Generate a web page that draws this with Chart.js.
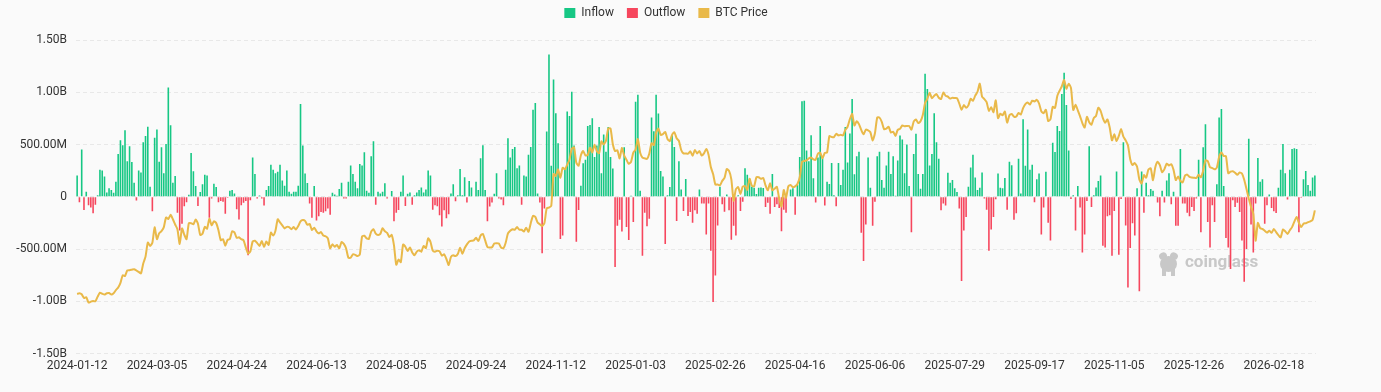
<!DOCTYPE html>
<html>
<head>
<meta charset="utf-8">
<title>Bitcoin ETF Flows</title>
<script src="https://cdn.jsdelivr.net/npm/chart.js@4.4.1/dist/chart.umd.min.js"></script>
<style>
  html, body { margin: 0; padding: 0; background: #fafafa; }
</style>
</head>
<body>
<canvas id="flowChart" width="1381" height="392"></canvas>
<script>
// daily net flow, $M (trading days from firstDay)
const netFlowM = [
  203, -52, 452, -126, 48, -80, -103, -158, -77, 16,
  258, 252, 194, 42, 81, 65, 39, 145, 410, 542,
  494, 636, 339, 484, 332, 135, -35, 252, 232, 523,
  581, 671, 97, -139, 565, 645, 335, 474, 226, 506,
  1045, 684, 135, 200, -152, -323, -258, -90, -52, 19,
  419, 245, 103, -87, 45, 119, 210, 203, -200, -16,
  126, 94, -52, -39, -48, -161, -10, 58, 65, 32,
  -119, -216, -80, -58, -39, -558, -32, 377, 219, -16,
  13, -16, -84, 65, 103, 306, 258, 226, 239, 306,
  155, 106, 252, 48, 29, 48, 48, 106, 887, 490,
  223, 132, -65, -200, 103, -226, -187, -145, -152, -139,
  -113, -171, 39, 23, 10, 74, 135, -16, -16, 145,
  300, 219, 145, 81, 313, 300, 426, 58, 39, 387,
  532, -77, 48, 32, 48, 129, -16, 5, 55, -235,
  -152, -126, 48, 203, -87, 29, 42, -77, 16, 42,
  65, 90, 42, 71, 252, 203, -123, -81, -90, -177,
  -284, -129, -206, -168, 32, 119, -42, 16, 265, 16,
  187, -55, 152, 90, 6, 145, 65, 368, 494, 65,
  -235, -92, -55, 29, 226, -16, -26, -81, 258, 561,
  377, 458, 477, 274, 300, -77, 203, 194, 403, 477,
  832, 897, 32, -55, -539, -113, 625, 1361, 297, 1123,
  800, 513, -403, -371, 268, 816, 774, 1006, 490, -429,
  -126, 105, 322, 355, 677, 687, 752, 381, 490, 668,
  226, 597, 432, 668, 381, 271, -671, -277, -219, -332,
  475, -290, -413, 10, -242, 909, 977, 58, -565, -152,
  -281, -210, 758, 626, 977, 797, 248, 194, -452, 16,
  94, 590, 476, -232, 339, 71, -135, 171, -184, -145,
  -248, -129, -161, 71, -65, -65, -361, -65, -516, -1006,
  -752, -274, 97, -71, -142, 23, -129, -410, -277, -371,
  16, -135, -48, 274, 210, 168, 97, 87, 26, 87,
  90, 84, -97, -58, -161, 219, -97, -71, -106, -329,
  -123, -152, 5, 71, 81, -171, 113, 381, 913, 919,
  442, 339, 590, 177, -55, 377, 677, 387, -84, 145,
  123, 323, 16, -90, 323, 113, 258, 668, 329, 606,
  935, 216, 387, 432, -345, -613, -265, 377, 87, -277,
  -48, 387, 432, 161, 87, 300, 432, 219, 387, 10,
  348, 587, 548, 226, 500, 103, -339, 410, 603, 219,
  77, 219, 1177, 1032, 300, 410, 800, 523, 365, -129,
  -65, -84, 229, 135, 161, 81, 45, -113, -806, -323,
  -194, 97, 281, 403, 184, 65, 87, 232, -16, -123,
  -516, -313, -194, -23, 223, 87, 81, 181, -123, 335,
  303, -219, -158, 365, 32, 742, 297, 645, 258, 306,
  -52, 168, 223, -361, -103, 239, -248, -419, 516, 429,
  677, 629, 984, 1187, 877, 442, -20, 15, -323, 103,
  -103, -532, -361, -39, 484, -97, 16, 90, 152, 203,
  -468, -484, -187, -177, -565, -135, 242, -555, -20, 523,
  -274, -867, -490, -252, -371, 81, -903, 242, -152, 135,
  16, 74, 58, 6, -55, -187, 58, -55, 155, 226,
  -71, 48, -277, -277, 458, -65, -65, -152, -187, -97,
  -135, -16, 355, -339, 474, 694, -242, -484, -81, -242,
  119, 758, 839, 103, -394, -484, -690, -32, -97, -58,
  -145, -419, -813, -500, 555, -265, -532, -65, 371, 145,
  168, -258, -81, 23, -107, -139, -155, 87, 258, 506,
  226, -26, 258, 458, 465, 458, -339, -10, 168, 248,
  113, 58, 184, 203
];

// BTC close, $K
const btcPriceK = [
  42.8, 43.1, 42.7, 41.3, 41.6, 39.5, 39.9, 40.1, 40.0, 41.8,
  43.3, 42.9, 42.6, 43.1, 43.2, 42.6, 43.1, 44.3, 45.3, 47.1,
  50.0, 49.7, 51.8, 51.9, 52.1, 52.3, 51.8, 51.3, 50.7, 54.5,
  57.1, 62.5, 61.2, 62.4, 68.3, 63.8, 66.1, 66.9, 68.3, 72.1,
  71.5, 73.1, 71.4, 69.4, 67.6, 61.9, 67.9, 65.5, 63.8, 69.9,
  69.9, 69.5, 71.3, 69.7, 65.4, 65.9, 68.5, 67.8, 71.6, 69.1,
  70.6, 70.0, 67.2, 63.4, 63.8, 61.3, 63.5, 63.8, 66.8, 66.4,
  64.3, 64.5, 63.8, 63.4, 60.6, 58.3, 59.1, 62.9, 63.2, 62.3,
  61.2, 63.1, 60.8, 62.9, 61.6, 66.3, 65.2, 67.0, 71.4, 70.2,
  69.1, 67.9, 68.5, 68.4, 67.6, 68.4, 67.5, 68.8, 70.6, 71.1,
  70.8, 69.3, 69.6, 67.3, 68.2, 66.8, 66.0, 66.5, 65.2, 64.9,
  64.1, 60.3, 61.8, 60.9, 61.6, 60.3, 62.7, 62.0, 60.2, 56.7,
  56.7, 58.0, 57.8, 57.3, 57.9, 64.8, 65.1, 64.1, 63.9, 66.7,
  67.6, 65.9, 65.4, 65.8, 68.0, 66.8, 66.2, 64.6, 65.4, 61.4,
  54.0, 56.0, 55.0, 61.7, 60.9, 59.3, 60.6, 58.7, 57.6, 59.0,
  59.5, 59.0, 61.2, 60.4, 64.1, 62.8, 59.4, 59.0, 59.4, 59.1,
  57.5, 58.0, 56.2, 53.9, 57.0, 57.6, 57.3, 58.1, 60.5, 58.2,
  60.3, 61.8, 62.9, 63.2, 63.3, 64.3, 63.1, 65.2, 65.8, 63.3,
  60.8, 60.6, 60.7, 62.1, 62.2, 62.1, 60.6, 60.3, 62.4, 66.0,
  67.0, 67.6, 67.4, 68.4, 67.4, 67.4, 66.7, 68.2, 66.6, 69.9,
  72.7, 72.3, 70.2, 69.5, 68.8, 70.0, 75.6, 75.9, 76.5, 88.7,
  88.0, 90.5, 87.3, 91.1, 90.5, 92.3, 94.3, 98.4, 98.9, 93.0,
  91.9, 95.9, 97.5, 95.8, 96.0, 98.8, 97.0, 99.9, 97.4, 96.7,
  101.2, 100.0, 101.5, 106.1, 106.1, 100.2, 97.5, 97.8, 94.7, 98.7,
  95.8, 94.2, 92.6, 93.4, 96.9, 98.1, 102.1, 96.9, 95.0, 94.7,
  94.5, 96.5, 100.5, 99.8, 104.5, 106.1, 103.7, 104.0, 104.8, 102.1,
  101.3, 103.7, 104.7, 102.4, 101.4, 97.9, 96.6, 96.6, 96.5, 97.4,
  95.7, 97.9, 96.6, 97.5, 95.8, 96.6, 98.3, 96.1, 91.4, 88.7,
  84.7, 84.7, 84.4, 86.1, 87.2, 90.6, 89.9, 86.7, 78.5, 82.9,
  83.7, 81.1, 83.9, 84.1, 82.7, 86.9, 84.2, 84.0, 87.5, 87.5,
  86.9, 87.2, 84.4, 82.5, 85.2, 82.5, 83.1, 83.8, 79.2, 76.3,
  82.6, 79.6, 84.0, 84.5, 83.7, 84.0, 84.9, 87.5, 93.4, 93.7,
  93.9, 94.7, 95.0, 94.3, 94.2, 96.5, 96.9, 94.7, 96.8, 97.0,
  103.2, 102.9, 102.8, 104.1, 103.5, 103.7, 103.5, 105.6, 106.8, 109.7,
  111.7, 107.3, 108.9, 107.8, 105.6, 103.9, 105.7, 105.4, 104.7, 101.5,
  104.3, 110.3, 110.3, 108.7, 105.9, 106.1, 106.8, 104.6, 104.9, 103.3,
  105.6, 106.0, 107.3, 107.0, 107.1, 107.1, 105.7, 108.8, 109.6, 108.2,
  108.9, 111.3, 115.9, 117.5, 119.8, 117.7, 118.7, 119.3, 117.9, 117.4,
  119.9, 118.7, 118.3, 117.6, 117.9, 117.8, 117.8, 115.7, 113.3, 115.1,
  114.1, 115.0, 117.5, 116.7, 118.7, 120.2, 123.3, 118.3, 117.4, 116.2,
  112.9, 114.3, 112.4, 116.9, 110.1, 111.8, 111.2, 112.6, 108.4, 111.2,
  111.7, 110.7, 110.7, 112.1, 111.5, 113.9, 115.5, 116.1, 115.3, 116.8,
  116.5, 117.1, 115.7, 112.7, 112.0, 113.3, 109.0, 109.7, 114.4, 114.0,
  118.6, 120.6, 122.3, 124.7, 121.4, 123.3, 121.7, 113.2, 115.2, 113.1,
  110.8, 108.2, 106.5, 110.6, 108.5, 107.6, 110.1, 111.0, 114.1, 112.9,
  110.1, 108.3, 109.6, 106.5, 101.6, 103.9, 101.3, 103.3, 105.9, 103.0,
  101.6, 99.7, 94.4, 92.2, 92.9, 91.5, 86.6, 85.1, 88.3, 87.3,
  90.5, 90.9, 86.3, 91.3, 93.4, 92.1, 89.4, 90.6, 92.7, 92.0,
  92.5, 90.3, 86.4, 87.8, 86.1, 85.5, 88.1, 88.5, 87.6, 87.4,
  87.3, 87.2, 88.4, 87.5, 90.0, 93.9, 93.7, 91.3, 91.0, 90.5,
  91.2, 95.3, 97.0, 95.6, 95.5, 89.0, 89.6, 89.8, 89.2, 88.4,
  89.3, 88.9, 86.5, 83.0, 79.3, 76.1, 73.5, 63.2, 70.0, 68.0,
  67.7, 67.0, 66.3, 67.0, 66.2, 67.7, 66.5, 65.3, 64.5, 67.5,
  66.8, 65.8, 67.2, 68.4, 70.5, 72.3, 70.0, 68.4, 69.7, 69.9,
  70.3, 70.6, 71.2, 74.8
];

const tickLabels = [
  "2024-01-12", "2024-03-05", "2024-04-24", "2024-06-13", "2024-08-05", "2024-09-24",
  "2024-11-12", "2025-01-03", "2025-02-26", "2025-04-16", "2025-06-06", "2025-07-29",
  "2025-09-17", "2025-11-05", "2025-12-26", "2026-02-18"
];

// categories = US market trading days
const firstDay = "2024-01-12";
const marketHolidays = [
  "2024-01-15", "2024-02-19", "2024-03-29", "2024-05-27", "2024-06-19", "2024-07-04",
  "2024-09-02", "2024-11-28", "2024-12-25", "2025-01-01", "2025-01-09", "2025-01-20",
  "2025-02-17", "2025-04-18", "2025-05-26", "2025-06-19", "2025-07-04", "2025-09-01",
  "2025-11-27", "2025-12-25", "2026-01-01", "2026-01-19", "2026-02-16"
];

function tradingDays(start, count) {
    const days = [];
    const d = new Date(start + "T00:00:00Z");
    while (days.length < count) {
        const iso = d.toISOString().slice(0, 10);
        const wd = d.getUTCDay();
        if (wd !== 0 && wd !== 6 && !marketHolidays.includes(iso)) days.push(iso);
        d.setUTCDate(d.getUTCDate() + 1);
    }
    return days;
}
const categories = tradingDays(firstDay, netFlowM.length);

function formatFlow(v) {
    if (v === 0) return "0";
    if (Math.abs(v) >= 1000) return (v / 1000).toFixed(2) + "B";
    return v.toFixed(2) + "M";
}

// coinglass watermark behind the bars
const watermark = {
    id: "watermark",
    beforeDatasetsDraw(chart) {
        const ctx = chart.ctx;
        ctx.save();
        ctx.fillStyle = "#c8c8c8";
        // little bull head
        ctx.beginPath();
        ctx.ellipse(1163, 256, 4, 3.5, -0.5, 0, Math.PI * 2);
        ctx.ellipse(1174, 256, 4, 3.5, 0.5, 0, Math.PI * 2);
        ctx.fill();
        ctx.beginPath();
        ctx.ellipse(1168.5, 264, 8.5, 8, 0, 0, Math.PI * 2);
        ctx.fill();
        ctx.fillRect(1162, 268, 4, 8);
        ctx.fillRect(1171, 268, 4, 8);
        ctx.font = "bold 17px Roboto";
        ctx.textBaseline = "middle";
        ctx.fillText("coinglass", 1185, 263);
        ctx.restore();
    }
};

// legend block: fixed height so the plot starts under it
const legendHeight = {
    id: "legendHeight",
    afterInit(chart) {
        const lg = chart.legend;
        const fit = lg.fit;
        lg.fit = function() {
            fit.call(this);
            this.height = 46;
        };
    }
};

Chart.defaults.font.family = "Roboto, sans-serif";
Chart.defaults.color = "#333";

new Chart(document.getElementById("flowChart"), {
    type: "bar",
    data: {
        labels: categories,
        datasets: [{
            label: "Inflow",
            data: netFlowM.map(v => v > 0 ? v : null),
            backgroundColor: "#16c784",
            stack: "flow",
            barPercentage: 0.7,
            categoryPercentage: 1,
            order: 1
        }, {
            label: "Outflow",
            data: netFlowM.map(v => v < 0 ? v : null),
            backgroundColor: "#f6465d",
            stack: "flow",
            barPercentage: 0.7,
            categoryPercentage: 1,
            order: 1
        }, {
            type: "line",
            label: "BTC Price",
            data: btcPriceK,
            yAxisID: "y1",
            borderColor: "#e9b949",
            backgroundColor: "#e9b949",
            borderWidth: 2,
            pointRadius: 0,
            tension: 0.2,
            order: 0
        }]
    },
    options: {
        responsive: false,
        animation: false,
        layout: { padding: { left: 16, right: 65, top: -6, bottom: 14 } },
        plugins: {
            legend: {
                position: "top",
                align: "center",
                labels: {
                    boxWidth: 11,
                    boxHeight: 10,
                    padding: 13,
                    color: "#333",
                    font: { size: 12 },
                    sort: (a, b) => a.datasetIndex - b.datasetIndex,
                    generateLabels(chart) {
                        return Chart.defaults.plugins.legend.labels.generateLabels(chart)
                            .map(item => Object.assign(item, { lineWidth: 0 }));
                    }
                }
            },
            tooltip: { enabled: false }
        },
        scales: {
            x: {
                stacked: true,
                offset: true,
                grid: { display: false, drawTicks: false },
                border: { display: false },
                ticks: {
                    autoSkip: false,
                    maxRotation: 0,
                    minRotation: 0,
                    padding: 5,
                    color: "#333",
                    font: { size: 12 },
                    callback(value) {
                        const d = this.getLabelForValue(value);
                        return tickLabels.includes(d) ? d : "";
                    }
                }
            },
            y: {
                stacked: true,
                min: -1500,
                max: 1500,
                afterFit(scale) { scale.width = 60; },
                ticks: {
                    stepSize: 500,
                    padding: 9,
                    color: "#333",
                    font: { size: 12 },
                    callback: formatFlow
                },
                grid: { color: "#e8e8e8", drawTicks: false },
                border: { display: false, dash: [4, 3] }
            },
            y1: {
                display: false,
                position: "right",
                min: 20,
                max: 140
            }
        }
    },
    plugins: [legendHeight, watermark]
});
</script>
</body>
</html>
